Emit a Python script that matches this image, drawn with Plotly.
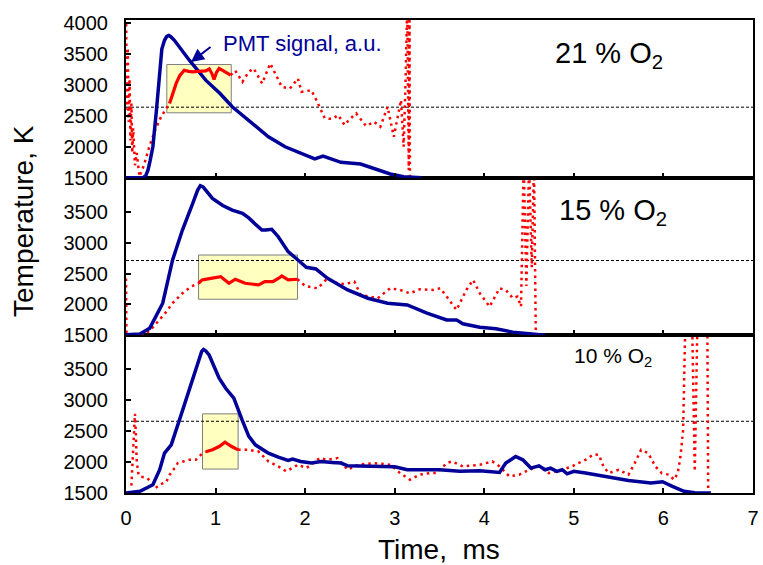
import plotly.graph_objects as go

# ---------------- data ----------------
# 21 % O2 (top panel)
t21_pmt = [0, 0.19, 0.22, 0.246, 0.27, 0.30, 0.34, 0.376, 0.40, 0.43, 0.455, 0.478, 0.50, 0.54, 0.62, 0.707,
           0.89, 1.05, 1.186, 1.37, 1.48, 1.59, 1.776, 1.96, 2.107, 2.2, 2.40, 2.62, 2.77, 2.95, 3.10, 3.30]
pmt21 = [1500, 1500, 1530, 1624, 1780, 2000, 2593, 3291, 3580, 3722, 3785, 3800, 3780, 3722, 3560, 3400,
         3077, 2860, 2646, 2431, 2297, 2162, 2000, 1883, 1802, 1850, 1748, 1721, 1652, 1560, 1516, 1500]
t21_pre = [0, 0.01, 0.02, 0.03, 0.04, 0.05, 0.06, 0.07, 0.08, 0.10, 0.12, 0.15, 0.2, 0.26, 0.32, 0.38, 0.44, 0.486]
temp21_pre = [4300, 2600, 3600, 2400, 3100, 2100, 2700, 1900, 2300, 1700, 1900, 1520, 1700, 2000, 2250, 2450, 2600, 2700]
t21_box = [0.486, 0.52, 0.56, 0.60, 0.65, 0.70, 0.744, 0.80, 0.89, 0.93, 0.96, 0.983, 1.01, 1.04, 1.10, 1.168]
temp21_box = [2700, 2850, 3024, 3150, 3238, 3220, 3211, 3220, 3227, 3260, 3180, 3088, 3200, 3266, 3215, 3157]
t21_post = [1.168, 1.22, 1.30, 1.37, 1.425, 1.52, 1.61, 1.665, 1.74, 1.83, 1.92, 1.96, 2.07, 2.125, 2.22, 2.30,
            2.37, 2.44, 2.50, 2.57, 2.68, 2.77, 2.84, 2.92, 2.99, 3.07, 3.10, 3.12, 3.14, 3.157, 3.165, 3.17]
temp21_post = [3157, 3230, 3050, 3211, 3266, 3024, 3346, 3185, 2969, 2943, 3104, 2888, 2915, 2754, 2459, 2450,
               2512, 2351, 2450, 2539, 2334, 2404, 2323, 2646, 2162, 2754, 2000, 3000, 4300, 1624, 4300, 1520]

# 15 % O2 (middle panel)
t15_pmt = [0, 0.155, 0.265, 0.41, 0.52, 0.63, 0.745, 0.80, 0.83, 0.86, 0.89, 0.965, 1.08, 1.186, 1.30, 1.37,
           1.45, 1.517, 1.56, 1.627, 1.70, 1.81, 1.92, 2.013, 2.12, 2.25, 2.475, 2.70, 2.92, 3.14, 3.36, 3.58,
           3.69, 3.76, 3.95, 4.13, 4.32, 4.50, 4.68]
pmt15 = [1510, 1520, 1616, 2020, 2719, 3203, 3634, 3850, 3920, 3900, 3848, 3714, 3600, 3526, 3472, 3400,
         3290, 3203, 3205, 3215, 3095, 2853, 2719, 2601, 2573, 2423, 2234, 2100, 2020, 1992, 1858, 1750,
         1750, 1686, 1632, 1605, 1552, 1520, 1500]
t15_pre = [0, 0.005, 0.15, 0.23, 0.30, 0.376, 0.45, 0.52, 0.63, 0.726, 0.81]
temp15_pre = [2420, 1500, 1500, 1535, 1630, 1750, 1880, 2020, 2180, 2288, 2342]
t15_box = [0.81, 0.85, 0.90, 0.96, 1.00, 1.057, 1.10, 1.15, 1.22, 1.28, 1.33, 1.40, 1.48, 1.55, 1.64, 1.70,
           1.74, 1.81, 1.86, 1.915]
temp15_box = [2342, 2396, 2410, 2423, 2440, 2450, 2400, 2342, 2407, 2370, 2342, 2330, 2315, 2369, 2369, 2420,
              2460, 2396, 2400, 2407]
t15_post = [1.915, 2.0, 2.14, 2.25, 2.36, 2.45, 2.55, 2.62, 2.70, 2.81, 2.95, 3.06, 3.17, 3.28, 3.43, 3.51,
            3.58, 3.69, 3.80, 3.875, 3.95, 4.06, 4.17, 4.24, 4.32, 4.37, 4.41, 4.44, 4.47, 4.50, 4.53, 4.555, 4.575]
temp15_post = [2407, 2299, 2261, 2423, 2342, 2330, 2369, 2154, 2130, 2100, 2261, 2234, 2180, 2245, 2234, 2261,
               2127, 1911, 2234, 2396, 2180, 1965, 2261, 2234, 2100, 2127, 1965, 4300, 2300, 4300, 2600, 4300, 1500]

# 10 % O2 (bottom panel)
t10_pmt = [0, 0.155, 0.30, 0.376, 0.43, 0.505, 0.597, 0.707, 0.818, 0.845, 0.865, 0.89, 0.928, 1.04, 1.113,
           1.204, 1.296, 1.37, 1.444, 1.59, 1.70, 1.81, 1.86, 1.95, 2.07, 2.18, 2.30, 2.40, 2.475, 2.84, 3.0,
           3.14, 3.50, 3.727, 3.95, 4.17, 4.24, 4.35, 4.43, 4.52, 4.61, 4.68, 4.74, 4.81, 4.87, 4.925, 5.0,
           5.13, 5.42, 5.61, 5.86, 5.99, 6.10, 6.23, 6.35, 6.53]
pmt10 = [1500, 1527, 1634, 1876, 2145, 2279, 2683, 3194, 3704, 3790, 3820, 3800, 3732, 3356, 3194,
         3033, 2683, 2420, 2279, 2145, 2080, 2026, 2050, 2010, 1984, 2010, 1995, 1984, 1940, 1930, 1925,
         1876, 1876, 1850, 1860, 1832, 1984, 2091, 2037, 1903, 1940, 1876, 1903, 1850, 1876, 1811, 1850,
         1822, 1742, 1703, 1662, 1683, 1607, 1527, 1505, 1500]
t10_pre = [0.06, 0.07, 0.085, 0.10, 0.11, 0.12, 0.14, 0.155, 0.23, 0.30, 0.33, 0.376, 0.45, 0.486, 0.54,
           0.578, 0.64, 0.707, 0.78, 0.836, 0.89]
temp10_pre = [1620, 1900, 2350, 2780, 2450, 2000, 1800, 1766, 1745, 1660, 1580, 1634, 1680, 1790, 1900,
              1984, 2010, 2037, 2037, 2118, 2167]
t10_box = [0.89, 0.965, 1.04, 1.105, 1.18, 1.252]
temp10_box = [2167, 2200, 2252, 2322, 2252, 2198]
t10_post = [1.252, 1.37, 1.48, 1.59, 1.70, 1.79, 1.92, 2.01, 2.07, 2.16, 2.25, 2.36, 2.475, 2.59, 2.77, 2.95,
            3.06, 3.17, 3.28, 3.39, 3.47, 3.58, 3.64, 3.76, 3.95, 4.09, 4.17, 4.28, 4.39, 4.50, 4.61, 4.72,
            4.87, 4.98, 5.05, 5.13, 5.22, 5.28, 5.33, 5.39, 5.50, 5.61, 5.68, 5.75, 5.83, 5.91, 5.98, 6.06,
            6.12, 6.16, 6.19, 6.22, 6.245, 6.32, 6.35, 6.38, 6.49, 6.50]
temp10_post = [2198, 2198, 2171, 2010, 1930, 1850, 1957, 1903, 1957, 2064, 2037, 2064, 1876, 1957, 1984, 1957,
               1822, 1715, 1796, 1822, 1822, 1984, 2010, 1930, 1957, 2010, 1930, 1769, 1796, 1876, 1930, 1822,
               1876, 1930, 1984, 2037, 2124, 2118, 1930, 1822, 1876, 1796, 1984, 2198, 2145, 1930, 1822, 1796,
               1715, 1822, 2090, 2520, 4300, 4300, 1850, 4300, 4300, 1500]

# threshold (dashed) levels and highlighted windows
threshold = {"21": 2640, "15": 2710, "10": 2660}
box21 = dict(x0=0.456, x1=1.175, y0=2549, y1=3330)
box15 = dict(x0=0.81, x1=1.915, y0=2084, y1=2799)
box10 = dict(x0=0.854, x1=1.252, y0=1887, y1=2780)

x_ticks = [0, 1, 2, 3, 4, 5, 6, 7]
y_ticks_top = [1500, 2000, 2500, 3000, 3500, 4000]
y_ticks = [1500, 2000, 2500, 3000, 3500]
labels = ["21 % O<sub>2</sub>", "15 % O<sub>2</sub>", "10 % O<sub>2</sub>"]

# ---------------- styling ----------------
BLUE = "#000099"
RED = "#FF0000"
FONT = "Liberation Sans, Arial, sans-serif"
DOT = "2.5px,4px"

fig = go.Figure()

panels = [
    ("x3", "y3", "21", t21_pmt, pmt21, t21_pre, temp21_pre, t21_box, temp21_box, t21_post, temp21_post),
    ("x2", "y2", "15", t15_pmt, pmt15, t15_pre, temp15_pre, t15_box, temp15_box, t15_post, temp15_post),
    ("x", "y", "10", t10_pmt, pmt10, t10_pre, temp10_pre, t10_box, temp10_box, t10_post, temp10_post),
]

for xa, ya, key, tp, pp, tpre, vpre, tb, vb, tpo, vpo in panels:
    fig.add_trace(go.Scatter(x=[x_ticks[0], x_ticks[-1]], y=[threshold[key]] * 2, xaxis=xa, yaxis=ya,
                             mode="lines", line=dict(color="black", width=1, dash="3px,2px"), hoverinfo="skip"))
    fig.add_trace(go.Scatter(x=tpre, y=vpre, xaxis=xa, yaxis=ya, mode="lines",
                             line=dict(color=RED, width=2.5, dash=DOT)))
    fig.add_trace(go.Scatter(x=tpo, y=vpo, xaxis=xa, yaxis=ya, mode="lines",
                             line=dict(color=RED, width=2.5, dash=DOT)))
    fig.add_trace(go.Scatter(x=tp, y=pp, xaxis=xa, yaxis=ya, mode="lines",
                             line=dict(color=BLUE, width=3.5)))
    fig.add_trace(go.Scatter(x=tb, y=vb, xaxis=xa, yaxis=ya, mode="lines",
                             line=dict(color=RED, width=3.2)))

shapes = []
for b, ya in [(box21, "y3"), (box15, "y2"), (box10, "y")]:
    shapes.append(dict(type="rect", xref=ya.replace("y", "x"), yref=ya, x0=b["x0"], x1=b["x1"],
                       y0=b["y0"], y1=b["y1"], fillcolor="#FFFFC0",
                       line=dict(color="#7f7f7f", width=1), layer="below"))

axis_common = dict(showline=True, linecolor="black", linewidth=2, mirror=True, ticks="inside",
                   ticklen=5, tickwidth=1.5, tickcolor="black", showgrid=False, zeroline=False,
                   tickfont=dict(family=FONT, size=20, color="black"))

yr = [1500, 4050]
layout = dict(
    width=763, height=565,
    margin=dict(l=126, r=4, t=20, b=72),
    paper_bgcolor="white", plot_bgcolor="white",
    showlegend=False,
    shapes=shapes,
    xaxis=dict(domain=[0, 1], anchor="y", range=[0, 7], tickvals=x_ticks, ticklabelstandoff=6, **axis_common),
    xaxis2=dict(domain=[0, 1], anchor="y2", range=[0, 7], tickvals=x_ticks, showticklabels=False, **axis_common),
    xaxis3=dict(domain=[0, 1], anchor="y3", range=[0, 7], tickvals=x_ticks, showticklabels=False, **axis_common),
    yaxis=dict(domain=[0, 1 / 3], anchor="x", range=yr, tickvals=y_ticks, ticklabelstandoff=12, **axis_common),
    yaxis2=dict(domain=[1 / 3, 2 / 3], anchor="x2", range=yr, tickvals=y_ticks, ticklabelstandoff=12, **axis_common),
    yaxis3=dict(domain=[2 / 3, 1], anchor="x3", range=yr, tickvals=y_ticks_top, ticklabelstandoff=12, **axis_common),
)
fig.update_layout(**layout)

ann = []
# panel labels
ann.append(dict(x=4.77, y=3480, xref="x3", yref="y3", text=labels[0], showarrow=False, xanchor="left",
                yanchor="middle", font=dict(family=FONT, size=29, color="black")))
ann.append(dict(x=4.81, y=3490, xref="x2", yref="y2", text=labels[1], showarrow=False, xanchor="left",
                yanchor="middle", font=dict(family=FONT, size=29, color="black")))
ann.append(dict(x=4.98, y=3700, xref="x", yref="y", text=labels[2], showarrow=False, xanchor="left",
                yanchor="middle", font=dict(family=FONT, size=21, color="black")))
# PMT label + arrow
ann.append(dict(x=1.06, y=3674, xref="x3", yref="y3", text="PMT signal, a.u.", showarrow=False,
                xanchor="left", yanchor="middle", font=dict(family=FONT, size=22, color=BLUE)))
ann.append(dict(x=0.726, y=3372, xref="x3", yref="y3", text="", showarrow=True, ax=21, ay=-16,
                arrowhead=2, arrowsize=1.3, arrowwidth=2, arrowcolor=BLUE))
# axis titles
ann.append(dict(x=-0.1643, y=0.575, xref="paper", yref="paper", text="Temperature, K", textangle=-90,
                showarrow=False, xanchor="center", yanchor="middle", font=dict(family=FONT, size=28, color="black")))
ann.append(dict(x=0.499, y=-0.1205, xref="paper", yref="paper", text="Time,&nbsp;&nbsp;ms",
                showarrow=False, xanchor="center", yanchor="middle", font=dict(family=FONT, size=28, color="black")))
fig.update_layout(annotations=ann)

fig.write_html("out.html")
